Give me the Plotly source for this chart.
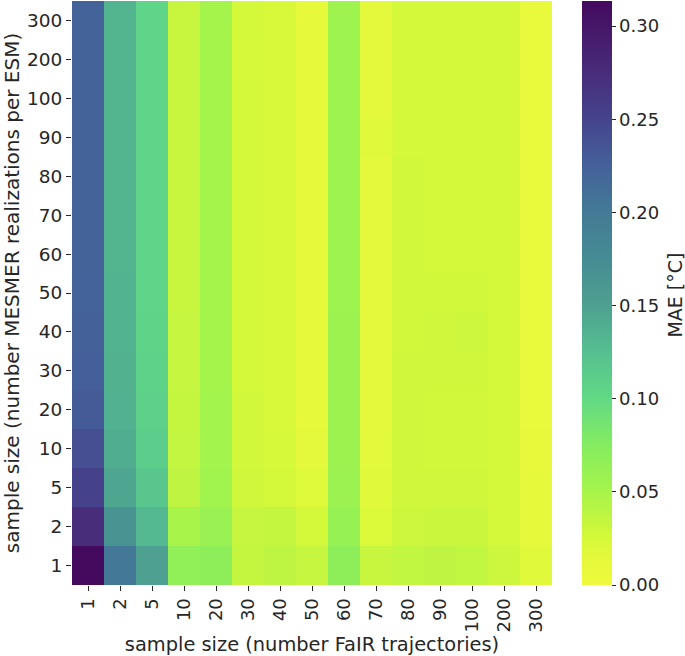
import plotly.graph_objects as go

fair_labels = ["1", "2", "5", "10", "20", "30", "40", "50", "60", "70", "80", "90", "100", "200", "300"]
mesmer_labels = ["1", "2", "5", "10", "20", "30", "40", "50", "60", "70", "80", "90", "100", "200", "300"]

# one list per FaIR sample size, ordered by MESMER realizations 1 ... 300
mae_f1 = [.313, .275, .252, .240, .230, .227, .225, .223, .222, .222, .222, .222, .222, .222, .222]
mae_f2 = [.203, .165, .146, .140, .137, .136, .135, .135, .134, .134, .134, .134, .134, .134, .134]
mae_f5 = [.150, .130, .118, .112, .109, .107, .106, .105, .105, .105, .105, .105, .105, .105, .105]
mae_f10 = [.066, .050, .037, .035, .034, .033, .033, .032, .032, .032, .032, .032, .032, .032, .032]
mae_f20 = [.068, .060, .054, .053, .053, .052, .052, .052, .052, .052, .052, .052, .052, .052, .052]
mae_f30 = [.034, .033, .029, .028, .028, .027, .027, .027, .027, .027, .027, .027, .027, .025, .027]
mae_f40 = [.038, .034, .026, .025, .024, .024, .024, .023, .023, .023, .023, .023, .023, .023, .023]
mae_f50 = [.033, .026, .018, .014, .012, .012, .012, .012, .012, .012, .012, .012, .012, .012, .012]
mae_f60 = [.068, .062, .058, .057, .057, .057, .057, .056, .056, .056, .056, .056, .056, .056, .056]
mae_f70 = [.032, .020, .016, .015, .014, .014, .014, .014, .014, .014, .014, .016, .014, .014, .014]
mae_f80 = [.036, .030, .029, .029, .029, .029, .028, .028, .028, .028, .028, .027, .027, .027, .027]
mae_f90 = [.037, .031, .029, .028, .028, .029, .029, .028, .027, .027, .027, .027, .027, .027, .027]
mae_f100 = [.036, .031, .029, .028, .028, .029, .030, .028, .027, .027, .027, .027, .027, .027, .027]
mae_f200 = [.030, .027, .027, .027, .026, .026, .026, .026, .026, .026, .026, .026, .026, .026, .026]
mae_f300 = [.016, .012, .011, .010, .009, .009, .009, .009, .009, .009, .009, .009, .009, .009, .009]

columns = [mae_f1, mae_f2, mae_f5, mae_f10, mae_f20, mae_f30, mae_f40, mae_f50,
           mae_f60, mae_f70, mae_f80, mae_f90, mae_f100, mae_f200, mae_f300]
z = [list(row) for row in zip(*columns)]

colorscale = [
    [0.00, "#eff93c"], [0.04, "#e6f93b"], [0.086, "#d3f93a"], [0.102, "#c8f63e"], [0.166, "#a4f44c"],
    [0.24, "#84ec60"], [0.32, "#62d986"], [0.40, "#55bf90"], [0.48, "#4ea090"],
    [0.56, "#468b94"], [0.64, "#437a96"], [0.72, "#44609a"], [0.80, "#45438c"],
    [0.88, "#482c7a"], [1.00, "#440a5e"],
]

INK = "#262626"
FONT = "DejaVu Sans"

fig = go.Figure(go.Heatmap(
    z=z, x=fair_labels, y=mesmer_labels,
    colorscale=colorscale, zmin=0, zmax=0.3135,
    colorbar=dict(
        x=(582 - 71.5) / 480.5, xanchor="left", xref="paper", xpad=0,
        y=0, yanchor="bottom", yref="paper", ypad=0,
        len=1, lenmode="fraction",
        thickness=30, thicknessmode="pixels", outlinewidth=0,
        tickmode="array", tickvals=[0, .05, .10, .15, .20, .25, .30],
        ticktext=["0.00", "0.05", "0.10", "0.15", "0.20", "0.25", "0.30"],
        ticks="outside", ticklen=4, tickwidth=1, tickcolor=INK,
        tickfont=dict(family=FONT, size=18, color=INK),
    ),
))

fig.update_layout(
    width=685, height=656, autosize=False,
    margin=dict(l=71.5, r=133, t=1, b=70.5, pad=0),
    paper_bgcolor="white", plot_bgcolor="white",
    font=dict(family=FONT, color=INK),
    annotations=[dict(
        text="MAE [°C]", xref="paper", yref="paper", x=(675 - 71.5) / 480.5, y=(585.5 - 295) / 584.5,
        showarrow=False, textangle=-90, xanchor="center", yanchor="middle",
        font=dict(family=FONT, size=19, color=INK),
    )],
)
fig.update_xaxes(
    type="category", tickangle=-90, ticks="outside", ticklen=5, tickwidth=1, tickcolor=INK,
    tickfont=dict(family=FONT, size=18, color=INK), showgrid=False, zeroline=False,
    title=dict(text="sample size (number FaIR trajectories)", standoff=2,
               font=dict(family=FONT, size=19.4, color=INK)),
)
fig.update_yaxes(
    type="category", ticks="outside", ticklen=5, tickwidth=1, tickcolor=INK,
    tickfont=dict(family=FONT, size=18.5, color=INK), showgrid=False, zeroline=False,
    title=dict(text="sample size (number MESMER realizations per ESM)", standoff=4,
               font=dict(family=FONT, size=20, color=INK)),
)
fig.write_html("out.html", post_script="document.body.style.margin='0';",
               config={"displayModeBar": False})
